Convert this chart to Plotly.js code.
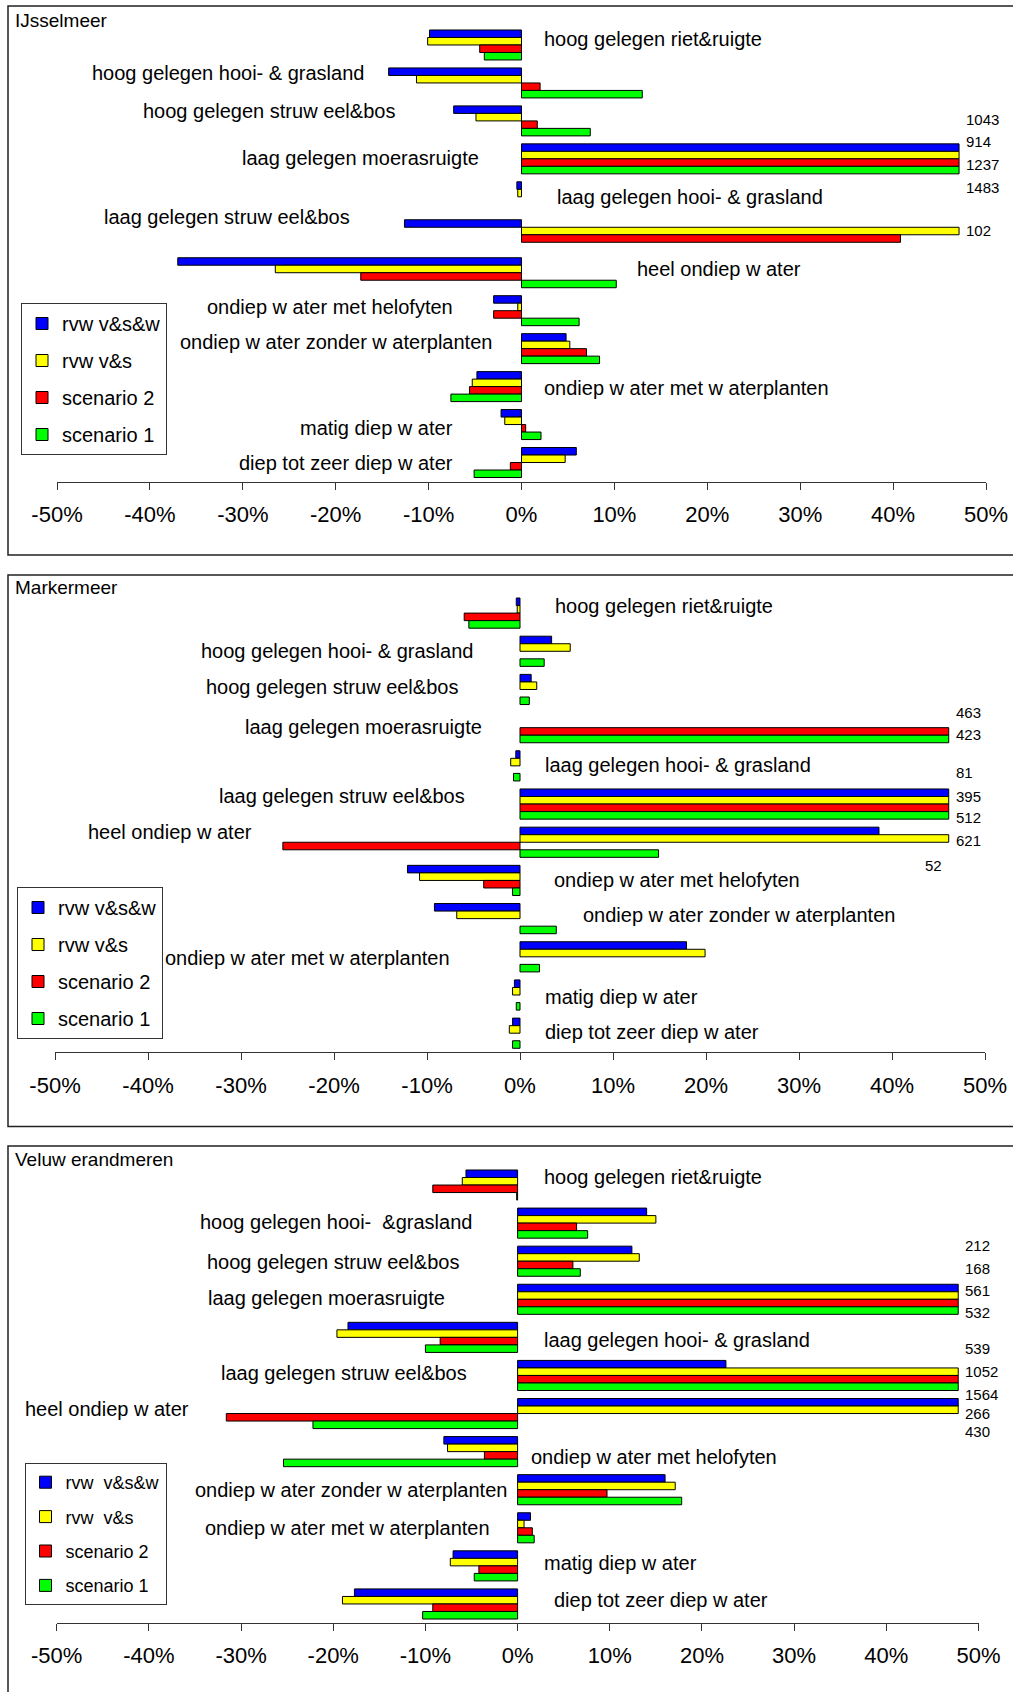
<!DOCTYPE html>
<html>
<head>
<meta charset="utf-8">
<script src="https://cdn.plot.ly/plotly-3.0.1.min.js"></script>
<style>html,body{margin:0;padding:0;background:#fff;}</style>
</head>
<body>
<div id="chart" style="width:1013px;height:1692px;"></div>
<script>
// ---------------- DATA ----------------
const categories = [
  'hoog gelegen riet&ruigte',
  'hoog gelegen hooi- & grasland',
  'hoog gelegen struw eel&bos',
  'laag gelegen moerasruigte',
  'laag gelegen hooi- & grasland',
  'laag gelegen struw eel&bos',
  'heel ondiep w ater',
  'ondiep w ater met helofyten',
  'ondiep w ater zonder w aterplanten',
  'ondiep w ater met w aterplanten',
  'matig diep w ater',
  'diep tot zeer diep w ater'
];
const categoriesVeluwe = [
  'hoog gelegen riet&ruigte',
  'hoog gelegen hooi-\u00a0 &grasland',
  'hoog gelegen struw eel&bos',
  'laag gelegen moerasruigte',
  'laag gelegen hooi- & grasland',
  'laag gelegen struw eel&bos',
  'heel ondiep w ater',
  'ondiep w ater met helofyten',
  'ondiep w ater zonder w aterplanten',
  'ondiep w ater met w aterplanten',
  'matig diep w ater',
  'diep tot zeer diep w ater'
];
const panelTitles = ['IJsselmeer', 'Markermeer', 'Veluw erandmeren'];
const seriesNames = ['rvw v&s&w', 'rvw v&s', 'scenario 2', 'scenario 1'];
const seriesNamesVeluwe = ['rvw\u00a0 v&s&w', 'rvw\u00a0 v&s', 'scenario 2', 'scenario 1'];
const tickValues = [-50, -40, -30, -20, -10, 0, 10, 20, 30, 40, 50];
const tickLabels = ['-50%', '-40%', '-30%', '-20%', '-10%', '0%', '10%', '20%', '30%', '40%', '50%'];

// change in % (values above the axis are drawn cut off and labelled)
const ijssel_rvwVSW   = [-9.9, -14.3, -7.3, 1043, -0.5, -12.6, -37.0, -3.0, 4.8, -4.8, -2.2, 5.9];
const ijssel_rvwVS    = [-10.1, -11.3, -4.9, 914, -0.4, 102, -26.5, -0.4, 5.2, -5.3, -1.8, 4.7];
const ijssel_scen2    = [-4.5, 2.0, 1.7, 1237, null, 40.8, -17.3, -3.0, 7.0, -5.6, 0.45, -1.2];
const ijssel_scen1    = [-4.0, 13.0, 7.4, 1483, null, null, 10.2, 6.2, 8.4, -7.6, 2.1, -5.1];

const marker_rvwVSW   = [-0.4, 3.4, 1.2, null, -0.45, 81, 38.6, -12.1, -9.2, 17.9, -0.6, -0.8];
const marker_rvwVS    = [-0.3, 5.4, 1.8, null, -1.0, 395, 52, -10.8, -6.8, 19.9, -0.8, -1.15];
const marker_scen2    = [-6.0, null, null, 463, null, 512, -25.5, -3.9, null, null, null, null];
const marker_scen1    = [-5.5, 2.6, 1.0, 423, -0.7, 621, 14.9, -0.8, 3.9, 2.1, -0.4, -0.8];

const veluwe_rvwVSW   = [-5.6, 14.0, 12.4, 212, -18.4, 22.6, 266, -8.0, 16.0, 1.4, -7.0, -17.7];
const veluwe_rvwVS    = [-6.0, 15.0, 13.2, 168, -19.6, 539, 430, -7.6, 17.1, 0.7, -7.3, -19.0];
const veluwe_scen2    = [-9.2, 6.4, 6.0, 561, -8.4, 1052, -31.6, -3.6, 9.7, 1.6, -4.2, -9.2];
const veluwe_scen1    = [-0.1, 7.6, 6.8, 532, -10.0, 1564, -22.2, -25.4, 17.8, 1.8, -4.7, -10.3];

// ---------------- STYLE / LAYOUT ----------------
const W = 1013, H = 1692;
const px = v => v / W;
const py = v => 1 - v / H;
const colors = ['#0000FF', '#FFFF00', '#FF0000', '#00FF00'];
const FONT = 'Liberation Sans, Arial, sans-serif';

const panels = [
  {
    series: [ijssel_rvwVSW, ijssel_rvwVS, ijssel_scen2, ijssel_scen1],
    names: seriesNames, labels: categories, title: panelTitles[0],
    xDom: [57, 986], yDom: [26, 481.5], clip: 47.1,
    box: [6, 555], titleY: 20,
    legend: {x: 21, y: 303, gap: 8, size: 20},
    // [side, x (%), yshift]
    labelPos: [['R',2.4,6],['L',-17.1,10],['L',-13.7,10],['L',-4.7,1],['R',3.8,0],['L',-18.6,18],
               ['R',12.4,4],['L',-7.5,4],['L',-3.3,6.6],['R',2.4,-1],['L',-7.5,-3],['L',-7.5,0]],
    capShift: [39.8, 17.8, -5.5, -28.2, 4.4],
    capRight: []
  },
  {
    series: [marker_rvwVSW, marker_rvwVS, marker_scen2, marker_scen1],
    names: seriesNames, labels: categories, title: panelTitles[1],
    xDom: [55, 985], yDom: [594, 1052.3], clip: 46.1,
    box: [575, 1126.5], titleY: 588,
    legend: {x: 17, y: 887, gap: 8, size: 20},
    labelPos: [['R',3.8,7],['L',-5.2,0],['L',-6.8,2.5],['L',-4.2,1],['R',2.7,1],['L',-6.0,8],
               ['L',-28.9,10],['R',3.7,0],['R',6.8,4],['L',-7.6,-1],['R',2.65,-2],['R',2.65,1]],
    capShift: [15.5, -7.3, 31.7, 7.9, -13.5, -36.9, -22.9],
    capRight: [6]
  },
  {
    series: [veluwe_rvwVSW, veluwe_rvwVS, veluwe_scen2, veluwe_scen1],
    names: seriesNamesVeluwe, labels: categoriesVeluwe, title: panelTitles[2],
    xDom: [56.7, 978.5], yDom: [1166, 1623], clip: 47.8,
    box: [1146, 1710], titleY: 1159,
    legend: {x: 24.5, y: 1463, gap: 8, size: 18},
    labelPos: [['R',2.9,8],['L',-5.1,1],['L',-6.5,-1],['L',-8.0,1],['R',2.9,-3],['L',-5.6,2],
               ['L',-35.75,4.5],['R',1.45,-5],['L',-1.25,0],['L',-3.1,0],['R',2.9,3],['R',3.9,4]],
    capShift: [53.9, 31.1, 8.6, -13.5, 27.2, 4.1, -19, -0.3, -18.2],
    capRight: []
  }
];

const traces = [];
const annotations = [];
const shapes = [];
const layout = {
  width: W, height: H,
  margin: {l: 0, r: 0, t: 0, b: 0},
  paper_bgcolor: '#fff', plot_bgcolor: 'rgba(0,0,0,0)',
  font: {family: FONT, color: '#000', size: 20},
  barmode: 'group', bargap: 0.21, bargroupgap: 0,
  showlegend: true,
  annotations: annotations, shapes: shapes
};

panels.forEach((p, k) => {
  const n = k === 0 ? '' : String(k + 1);
  const xa = 'x' + n, ya = 'y' + n;
  const legId = 'legend' + n;

  p.series.forEach((vals, s) => {
    traces.push({
      type: 'bar', orientation: 'h',
      x: vals.map(v => v == null ? null : Math.min(v, p.clip)),
      y: categories,
      xaxis: xa, yaxis: ya,
      name: p.names[s],
      legend: legId, legendgroup: 'p' + k + 's' + s,
      marker: {color: colors[s], line: {color: '#000', width: 1}},
      hoverinfo: 'skip', cliponaxis: false
    });
  });

  layout['xaxis' + n] = {
    domain: [px(p.xDom[0]), px(p.xDom[1])], anchor: ya,
    range: [-50, 50], tickvals: tickValues, ticktext: tickLabels,
    ticks: 'outside', ticklen: 7, tickwidth: 1, tickcolor: '#333',
    showline: true, linecolor: '#333', linewidth: 1,
    showgrid: false, zeroline: false, fixedrange: true,
    tickfont: {family: FONT, size: 22, color: '#000'}, ticklabelstandoff: 6
  };
  layout['yaxis' + n] = {
    domain: [py(p.yDom[1]), py(p.yDom[0])], anchor: xa,
    type: 'category', categoryorder: 'array', categoryarray: categories,
    autorange: 'reversed', showticklabels: false, showgrid: false,
    zeroline: false, showline: false, ticks: '', fixedrange: true
  };
  layout[legId] = {
    x: px(p.legend.x), y: py(p.legend.y), xanchor: 'left', yanchor: 'top',
    xref: 'paper', yref: 'paper',
    font: {family: FONT, size: p.legend.size, color: '#000'},
    bgcolor: '#fff', bordercolor: '#333', borderwidth: 1,
    traceorder: 'grouped', tracegroupgap: p.legend.gap
  };

  // panel frame
  shapes.push({type: 'rect', xref: 'paper', yref: 'paper',
    x0: px(8), x1: px(1030), y0: py(p.box[1]), y1: py(p.box[0]),
    line: {color: '#222', width: 1.5}, fillcolor: 'rgba(0,0,0,0)', layer: 'below'});

  // panel title
  annotations.push({xref: 'paper', yref: 'paper', x: px(13), y: py(p.titleY),
    xanchor: 'left', yanchor: 'middle', text: p.title, showarrow: false,
    font: {family: FONT, size: 19, color: '#000'}});

  // category labels
  categories.forEach((c, i) => {
    const lp = p.labelPos[i];
    const right = lp[0] === 'R';
    annotations.push({xref: xa, yref: ya, x: lp[1], y: c, yshift: lp[2],
      xshift: right ? -2 : 3,
      xanchor: right ? 'left' : 'right', yanchor: 'middle',
      text: p.labels[i], showarrow: false,
      font: {family: FONT, size: 20, color: '#000'}});
  });

  // labels of bars cut off at the axis end
  let cnt = 0;
  categories.forEach((c, i) => {
    p.series.forEach((vals, s) => {
      const v = vals[i];
      if (v != null && v > p.clip) {
        const right = p.capRight.indexOf(cnt) >= 0;
        annotations.push({xref: xa, yref: ya, x: p.clip, y: c,
          yshift: p.capShift[cnt], xshift: right ? -5 : 5,
          xanchor: right ? 'right' : 'left', yanchor: 'middle',
          text: String(v), showarrow: false,
          font: {family: FONT, size: 15, color: '#000'}});
        cnt++;
      }
    });
  });
});

Plotly.newPlot('chart', traces, layout, {staticPlot: true, displayModeBar: false});
</script>
</body>
</html>
